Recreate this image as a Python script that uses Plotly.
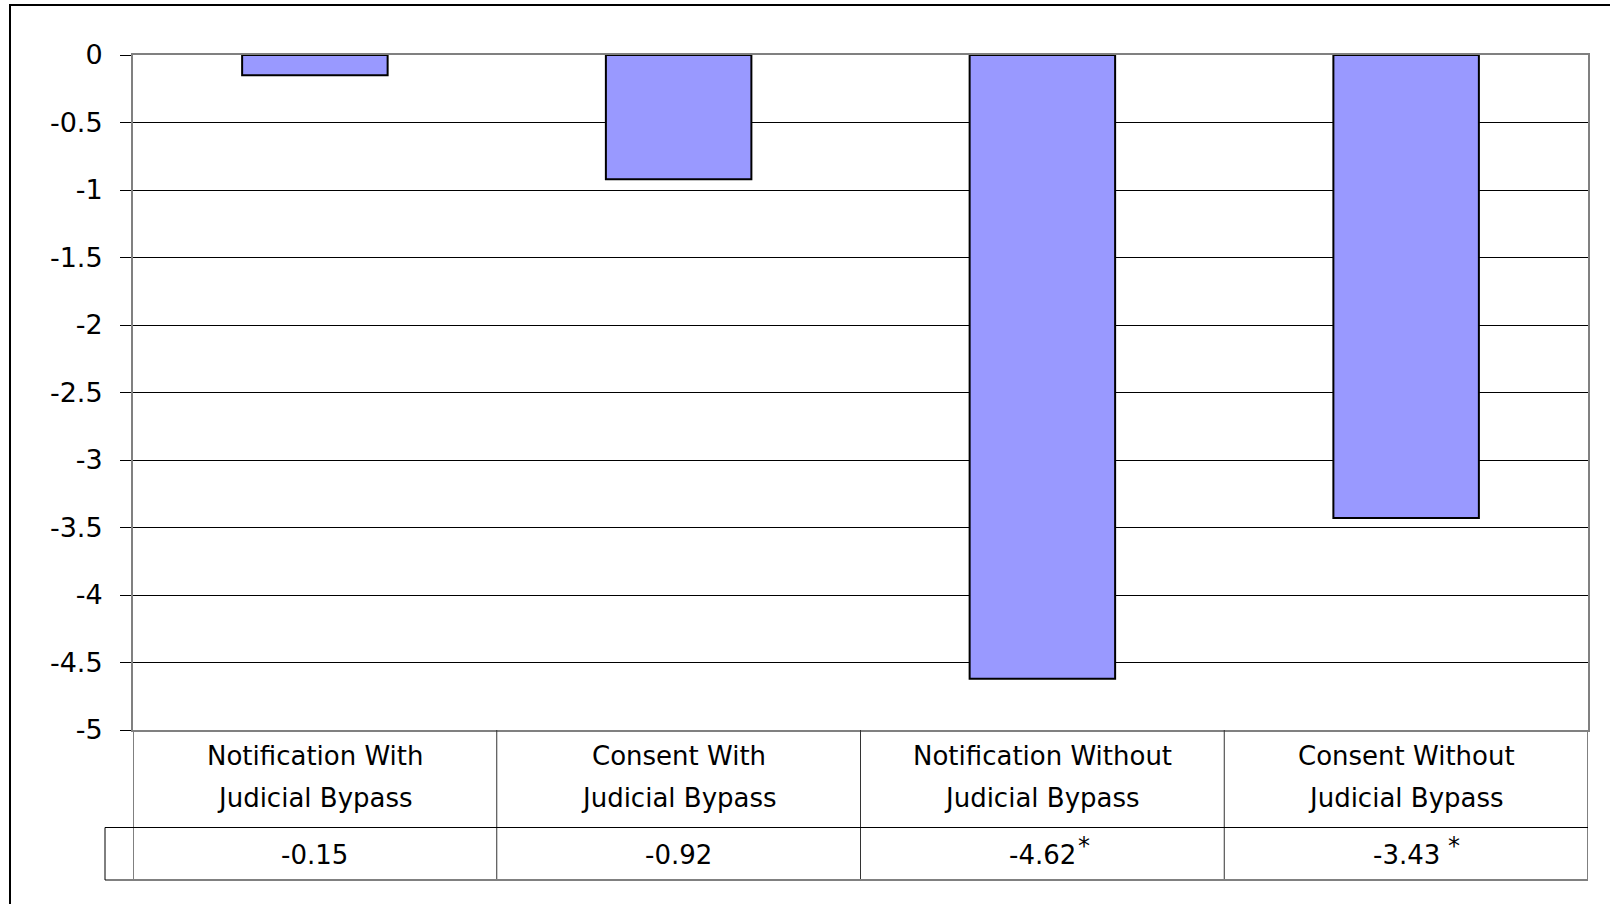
import plotly.graph_objects as go

# datos de la tabla / barras
categorias = ["Notification With Judicial Bypass", "Consent With Judicial Bypass",
              "Notification Without Judicial Bypass", "Consent Without Judicial Bypass"]
linea1 = ["Notification With", "Consent With", "Notification Without", "Consent Without"]
linea2 = ["Judicial Bypass", "Judicial Bypass", "Judicial Bypass", "Judicial Bypass"]
valores = [-0.15, -0.92, -4.62, -3.43]
etiquetas = ["-0.15", "-0.92", "-4.62", "-3.43"]
significativo = [False, False, True, True]
ticks_y = [0, -0.5, -1, -1.5, -2, -2.5, -3, -3.5, -4, -4.5, -5]

W, H = 1610, 904
L, R, T, B = 133, 1588, 55, 730
FUENTE = "DejaVu Sans, Verdana, sans-serif"
GRIS = "#808080"


def py(px):
    # pixel vertical -> coordenada paper
    return (B - px) / (B - T)


def px_x(px):
    return (px - L) / (R - L)


fig = go.Figure(go.Bar(
    x=categorias, y=valores, width=0.4,
    marker=dict(color="#9999FF", line=dict(color="black", width=2)),
))

fig.update_layout(
    width=W, height=H,
    margin=dict(l=L, r=W - R, t=T, b=H - B),
    plot_bgcolor="white", paper_bgcolor="white",
    showlegend=False,
    font=dict(family=FUENTE, size=26, color="black"),
)
fig.update_yaxes(
    range=[-5, 0], tickvals=ticks_y, ticktext=[f"{t:g}" for t in ticks_y],
    showgrid=True, gridcolor="black", gridwidth=1,
    zeroline=False, showline=True, linecolor=GRIS, linewidth=2, mirror=True,
    ticks="outside", ticklen=11, tickcolor="black", tickwidth=1,
    tickfont=dict(size=27), ticklabelstandoff=12, layer="below traces",
)
fig.update_xaxes(
    range=[-0.5, 3.5], showticklabels=False, showgrid=False, zeroline=False,
    showline=True, linecolor=GRIS, linewidth=2, mirror=True, layer="below traces",
)

y_fila = py(827.5)
y_fondo = py(880)
x_izq = px_x(105)

shapes = []
# lineas verticales de la tabla
for xb in [0.5, 1.5, 2.5]:
    shapes.append(dict(type="line", xref="x", yref="paper", x0=xb, x1=xb, y0=0, y1=y_fondo,
                       line=dict(color="#333333", width=1)))
for xb in [-0.5, 3.5]:
    shapes.append(dict(type="line", xref="x", yref="paper", x0=xb, x1=xb, y0=0, y1=y_fondo,
                       line=dict(color=GRIS, width=2)))
shapes.append(dict(type="line", xref="paper", yref="paper", x0=x_izq, x1=1, y0=y_fila, y1=y_fila,
                   line=dict(color="black", width=1)))
shapes.append(dict(type="line", xref="paper", yref="paper", x0=x_izq, x1=1, y0=y_fondo, y1=y_fondo,
                   line=dict(color=GRIS, width=2)))
shapes.append(dict(type="line", xref="paper", yref="paper", x0=x_izq, x1=x_izq, y0=y_fila, y1=y_fondo,
                   line=dict(color="black", width=1)))
# borde exterior del grafico
shapes.append(dict(type="rect", xref="paper", yref="paper", x0=px_x(10), x1=1.2, y0=-0.6, y1=py(5),
                   line=dict(color="black", width=2), fillcolor="rgba(0,0,0,0)"))
fig.update_layout(shapes=shapes)

for i, cat in enumerate(categorias):
    fig.add_annotation(x=cat, y=py(756), xref="x", yref="paper", yanchor="middle", text=linea1[i],
                       showarrow=False, font=dict(size=26))
    fig.add_annotation(x=cat, y=py(798), xref="x", yref="paper", yanchor="middle", text=linea2[i],
                       showarrow=False, font=dict(size=26))
    fig.add_annotation(x=cat, y=py(855), xref="x", yref="paper", yanchor="middle", text=etiquetas[i],
                       showarrow=False, font=dict(size=26))
    if significativo[i]:
        # asterisco de significancia, en superindice
        fig.add_annotation(x=cat, y=py(846), xref="x", yref="paper", yanchor="middle", text="*",
                           xanchor="left", xshift=34 if i == 2 else 40,
                           showarrow=False, font=dict(size=24))

fig.write_html("out.html", config={"displayModeBar": False},
               post_script="document.body.style.margin='0';")
